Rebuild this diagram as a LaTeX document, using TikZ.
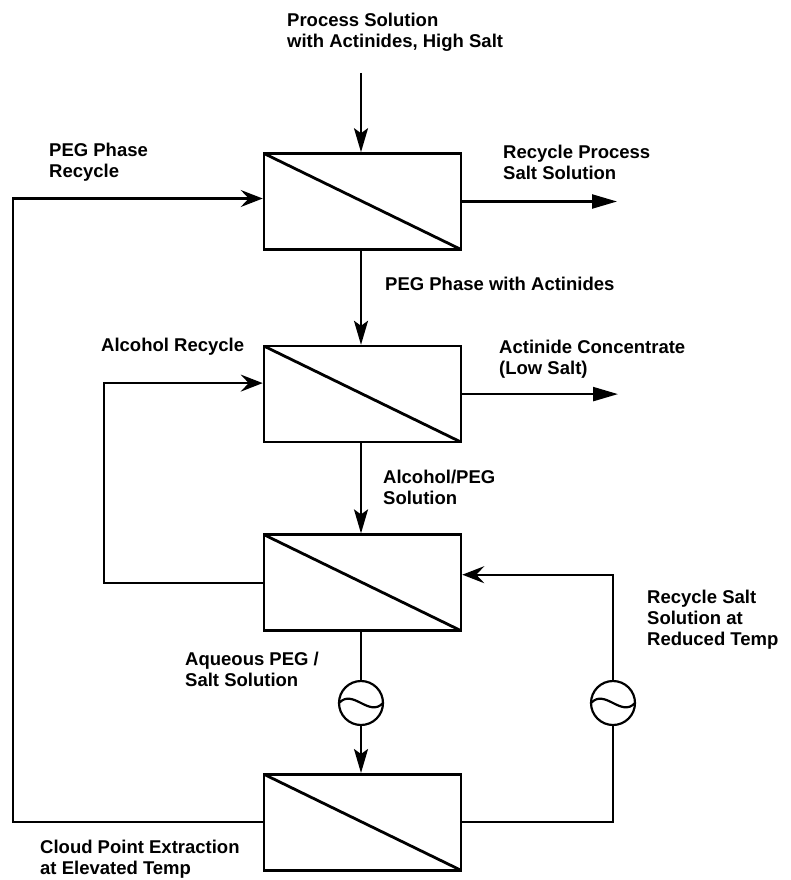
\documentclass[tikz,border=0pt]{standalone}
\usepackage{fontspec}
\setmainfont{Liberation Sans}
\usetikzlibrary{arrows.meta,positioning}

\begin{document}
\begin{tikzpicture}[
    x=1pt, y=-1pt,
    block/.style={draw, line width=2.6pt, minimum width=197pt, minimum height=96pt, inner sep=0pt,
        path picture={\draw[line width=2.8pt] (path picture bounding box.north west) -- (path picture bounding box.south east);}},
    hx/.style={draw, circle, line width=2.2pt, minimum size=44pt, inner sep=0pt,
        path picture={\draw[line width=2.2pt, shift={(path picture bounding box.center)}] (-22pt,0pt) .. controls (-8pt,15pt) and (8pt,-15pt) .. (22pt,0pt);}},
    lbl/.style={anchor=north west, inner sep=0pt, align=left, font=\bfseries\fontsize{18.5}{21}\selectfont},
    line/.style={line width=2.3pt},
    arrow/.style={line, -{Stealth[length=24pt, width=14pt, inset=5pt]}},
    recycle/.style={line, -{Stealth[length=22pt, width=17pt, inset=8pt]}},
    outarrow/.style={line, -{Triangle[length=25pt, width=14pt]}}
]
\useasboundingbox (0,0) rectangle (790,880);

% separation stages
\node[block] (extract) at (362.5,201.5) {};
\node[block, below=94pt of extract] (backext) {};
\node[block, below=90pt of backext] (split) {};
\node[block, below=141pt of split] (cloudpt) {};

% heat exchangers
\node[hx] (heat1) at (361,703) {};
\node[hx] (heat2) at (613,703) {};

% free ends and loop corners
\coordinate (feed) at (361,73);
\coordinate (saltout) at (617,199);
\coordinate (concout) at (618,392);
\coordinate (pegleft) at (13,0);
\coordinate (alcleft) at (104,0);

% labels
\node[lbl] (feedlbl) at (287,13) {Process Solution\\with Actinides, High Salt};
\node[lbl] (pegreclbl) at (49,143) {PEG Phase\\Recycle};
\node[lbl] (saltoutlbl) at (503,145) {Recycle Process\\Salt Solution};
\node[lbl] (peglbl) at (385,277) {PEG Phase with Actinides};
\node[lbl] (alcreclbl) at (101,338) {Alcohol Recycle};
\node[lbl] (conclbl) at (499,340) {Actinide Concentrate\\(Low Salt)};
\node[lbl] (alcpeglbl) at (383,470) {Alcohol/PEG\\Solution};
\node[lbl] (saltreclbl) at (647,590) {Recycle Salt\\Solution at\\Reduced Temp};
\node[lbl] (aqlbl) at (185,652) {Aqueous PEG /\\Salt Solution};
\node[lbl] (cloudlbl) at (40,840) {Cloud Point Extraction\\at Elevated Temp};

% main flow
\draw[arrow] (feed) -- (feed |- extract.north);
\draw[outarrow] (extract.east) -- (extract.east -| saltout);
\draw[arrow] (extract.south -| feed) -- (backext.north -| feed);
\draw[outarrow] (backext.east) -- (backext.east -| concout);
\draw[arrow] (backext.south -| feed) -- (split.north -| feed);
\draw[line] (split.south -| heat1) -- (heat1.north);
\draw[arrow] (heat1.south) -- (cloudpt.north -| heat1);

% recycle loops
\draw[recycle] (cloudpt.west) -- (cloudpt.west -| pegleft) |- ([yshift=3pt]extract.west);
\draw[recycle] (split.west) -- (split.west -| alcleft) |- ([yshift=11pt]backext.west);
\draw[line] (cloudpt.east) -| (heat2.south);
\draw[recycle] (heat2.north) |- ([yshift=8pt]split.east);
\end{tikzpicture}
\end{document}
